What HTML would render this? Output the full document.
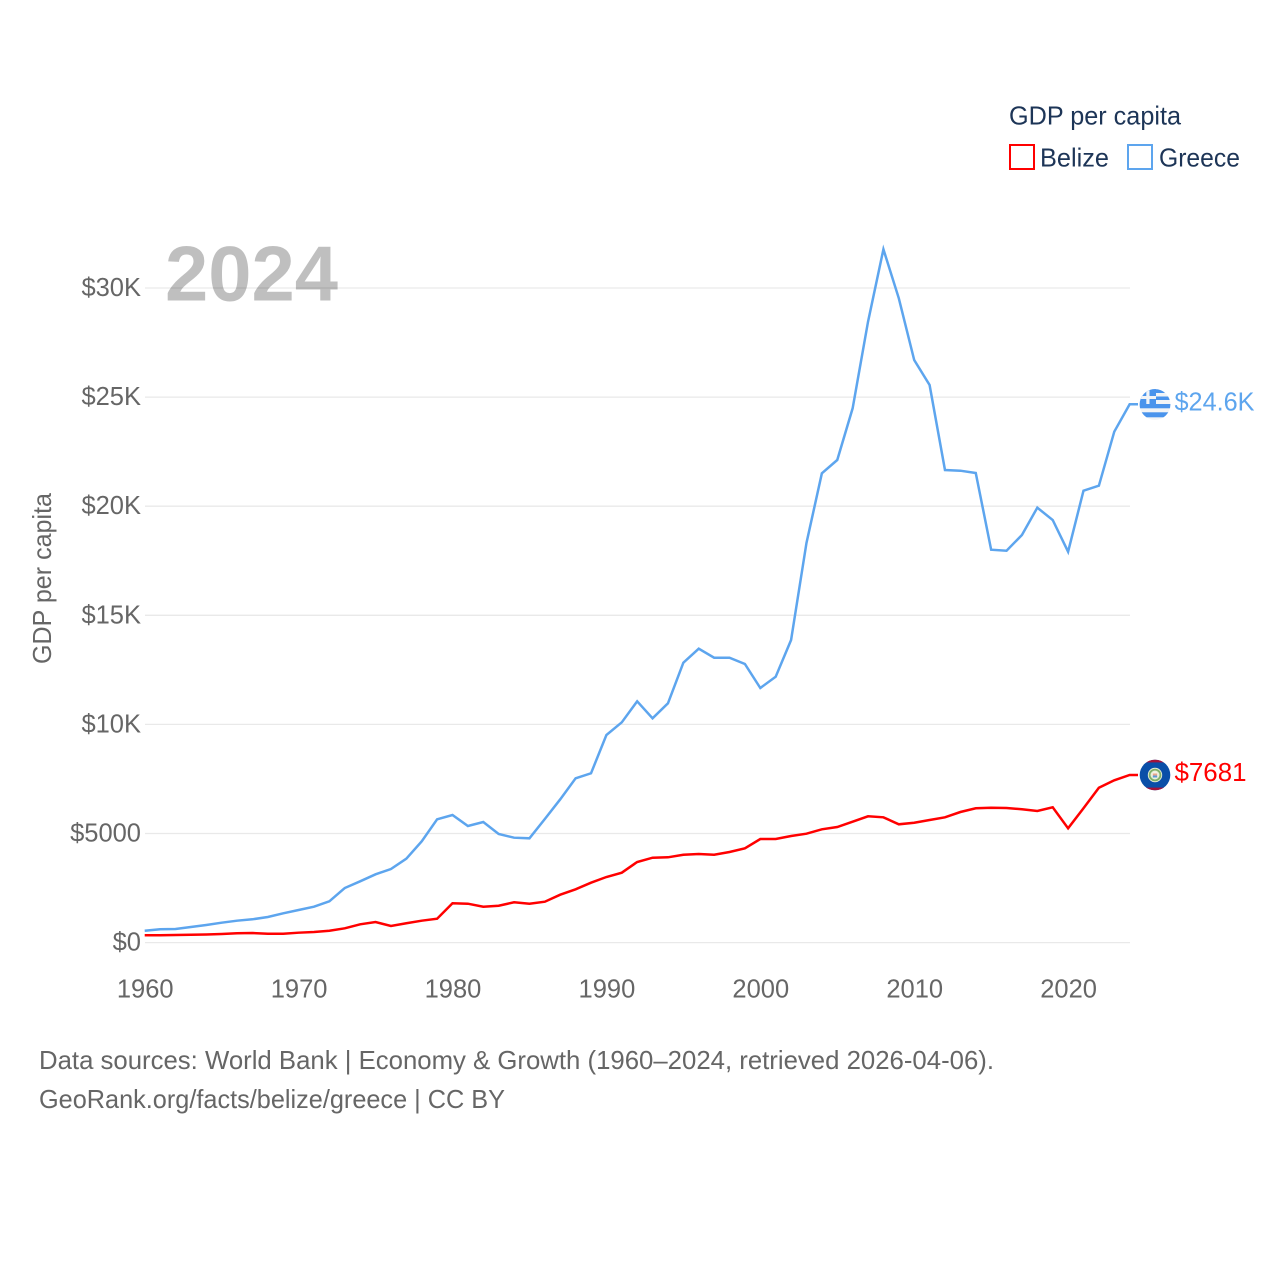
<!DOCTYPE html>
<html lang="en">
<head>
<meta charset="utf-8">
<title>GDP per capita: Belize and Greece</title>
<style>
html,body{margin:0;padding:0;background:#fff;}
svg{display:block;font-family:"Liberation Sans",Arial,sans-serif;}
.tick{font-size:25.5px;fill:#666;}
.legend{font-size:26px;fill:#1d3557;}
.foot{font-size:26px;fill:#666;}
</style>
</head>
<body>
<svg id="chart" xmlns="http://www.w3.org/2000/svg" width="1280" height="1280" viewBox="0 0 1280 1280">
  <rect x="0" y="0" width="1280" height="1280" fill="#fff"/>
  <g id="grid"></g>
  <g id="yaxis"></g>
  <g id="xaxis"></g>
  <text x="165" y="300.5" font-size="78" font-weight="700" fill="#000" fill-opacity="0.25" textLength="173" lengthAdjust="spacingAndGlyphs">2024</text>
  <text class="tick" transform="translate(51,664) rotate(-90)" textLength="171" lengthAdjust="spacingAndGlyphs" style="font-size:26px">GDP per capita</text>
  <g id="series"></g>

  <defs>
    <clipPath id="flag-clip-gr"><circle cx="1155" cy="0" r="15.4"/></clipPath>
    <clipPath id="flag-clip-bz"><circle cx="1155" cy="0" r="15.3"/></clipPath>
  </defs>

  <g id="flag-greece">
    <g clip-path="url(#flag-clip-gr)">
      <rect x="1139" y="-16" width="32" height="32" fill="#f2f4f6"/>
      <rect x="1139" y="-16" width="32" height="4.5" fill="#4a94ec"/>
      <rect x="1139" y="-8" width="32" height="3.5" fill="#4a94ec"/>
      <rect x="1139" y="-0.5" width="32" height="4.3" fill="#4a94ec"/>
      <rect x="1139" y="7.8" width="32" height="5" fill="#4a94ec"/>
      <rect x="1139" y="-16" width="17" height="15.5" fill="#4a94ec"/>
      <rect x="1146.3" y="-16" width="3.2" height="15.5" fill="#f2f4f6"/>
      <rect x="1139" y="-8.5" width="17" height="3" fill="#f2f4f6"/>
    </g>
  </g>

  <g id="flag-belize">
    <g clip-path="url(#flag-clip-bz)">
      <rect x="1139" y="-16" width="32" height="32" fill="#0a4fa8"/>
      <rect x="1139" y="-16" width="32" height="3.4" fill="#a5123a"/>
      <rect x="1139" y="12.6" width="32" height="3.4" fill="#a5123a"/>
      <circle cx="1155" cy="0" r="7.2" fill="#e8efd8"/>
      <circle cx="1155" cy="0" r="5.4" fill="none" stroke="#7fb069" stroke-width="1.8"/>
      <circle cx="1155" cy="0" r="3.2" fill="#f4f2e6"/>
      <rect x="1152.8" y="-1.5" width="4.4" height="2" fill="#e8a58a"/>
      <rect x="1152.8" y="0.5" width="4.4" height="2" fill="#5b9bd5"/>
    </g>
  </g>

  <text id="label-greece" x="1174.5" font-size="25.5" fill="#5da5ee" textLength="80" lengthAdjust="spacingAndGlyphs">$24.6K</text>
  <text id="label-belize" x="1174.5" font-size="25.5" fill="#ff0000" textLength="72" lengthAdjust="spacingAndGlyphs">$7681</text>

  <g>
    <text class="legend" x="1009" y="124.5" textLength="172" lengthAdjust="spacingAndGlyphs">GDP per capita</text>
    <rect x="1010" y="145" width="24" height="24" fill="none" stroke="#ff0000" stroke-width="2"/>
    <text class="legend" x="1040" y="166.5" textLength="69" lengthAdjust="spacingAndGlyphs">Belize</text>
    <rect x="1128" y="145" width="24" height="24" fill="none" stroke="#5da5ee" stroke-width="2"/>
    <text class="legend" x="1159" y="166.5" textLength="81" lengthAdjust="spacingAndGlyphs">Greece</text>
  </g>

  <text class="foot" x="39" y="1069" textLength="955" lengthAdjust="spacingAndGlyphs">Data sources: World Bank | Economy &amp; Growth (1960–2024, retrieved 2026-04-06).</text>
  <text class="foot" x="39" y="1108" textLength="466" lengthAdjust="spacingAndGlyphs">GeoRank.org/facts/belize/greece | CC BY</text>
</svg>

<script>
var firstYear = 1960;
var greeceValues = [545,610,623,715,807,912,1004,1068,1173,1343,1494,1645,1893,2502,2809,3130,3373,3845,4643,5651,5848,5344,5527,4977,4808,4780,5665,6567,7530,7759,9514,10096,11059,10280,10967,12828,13469,13057,13057,12768,11668,12186,13868,18314,21508,22118,24487,28456,31774,29528,26700,25555,21659,21627,21522,18007,17961,18680,19932,19368,17915,20711,20940,23415,24670];
var belizeValues = [335,339,348,357,371,394,426,440,408,408,454,486,545,655,839,944,761,885,1004,1095,1801,1783,1645,1691,1847,1783,1874,2195,2443,2745,3006,3203,3694,3891,3909,4028,4060,4028,4152,4322,4748,4748,4885,4991,5193,5298,5541,5788,5742,5422,5495,5619,5742,5985,6155,6182,6169,6109,6031,6201,5238,6155,7099,7438,7681];
var yTickValues = [0,5000,10000,15000,20000,25000,30000];
var yTickLabels = ['$0','$5000','$10K','$15K','$20K','$25K','$30K'];
var xTickValues = [1960,1970,1980,1990,2000,2010,2020];

var NS = 'http://www.w3.org/2000/svg';
function xScale(year){ return 144.7 + (year - 1960) * 15.39; }
function yScale(value){ return 942.6 - value * 0.02182; }
function make(tag, parent){
  var el = document.createElementNS(NS, tag);
  parent.appendChild(el);
  return el;
}

var grid = document.getElementById('grid');
var yaxis = document.getElementById('yaxis');
var xaxis = document.getElementById('xaxis');
var series = document.getElementById('series');

yTickValues.forEach(function(v, i){
  var line = make('line', grid);
  
  
  line.setAttribute('x1', 145);
  line.setAttribute('x2', 1130);
  line.setAttribute('y1', yScale(v));
  line.setAttribute('y2', yScale(v));
  line.setAttribute('stroke', '#e9e9e9');
  line.setAttribute('stroke-width', 1.3);
  var label = make('text', yaxis);
  
  
  label.setAttribute('class', 'tick');
  label.setAttribute('x', 141);
  label.setAttribute('y', yScale(v) + 8);
  label.setAttribute('text-anchor', 'end');
  label.textContent = yTickLabels[i];
});

xTickValues.forEach(function(year){
  var label = make('text', xaxis);
  
  
  label.setAttribute('class', 'tick');
  label.setAttribute('x', xScale(year) + 0.5);
  label.setAttribute('y', 997.5);
  label.setAttribute('text-anchor', 'middle');
  label.textContent = String(year);
});

function drawLine(values, color){
  var pts = values.map(function(v, i){
    return xScale(firstYear + i).toFixed(2) + ',' + yScale(v).toFixed(2);
  });
  var last = values[values.length - 1];
  pts.push('1138,' + yScale(last).toFixed(2));
  var path = make('polyline', series);
  path.setAttribute('points', pts.join(' '));
  path.setAttribute('fill', 'none');
  path.setAttribute('stroke', color);
  path.setAttribute('stroke-width', 2.5);
  path.setAttribute('stroke-linejoin', 'miter');
  return path;
}

var belizeLine = drawLine(belizeValues, '#ff0000');


var greeceLine = drawLine(greeceValues, '#5da5ee');



function placeEnd(flagId, labelId, values, flagOffset, labelOffset){
  var yEnd = yScale(values[values.length - 1]);
  document.getElementById(flagId).setAttribute('transform', 'translate(0,' + (yEnd + flagOffset) + ')');
  document.getElementById(labelId).setAttribute('y', yEnd + labelOffset);
}
placeEnd('flag-greece', 'label-greece', greeceValues, 0.2, 6);
placeEnd('flag-belize', 'label-belize', belizeValues, 0, 6);
</script>
</body>
</html>
